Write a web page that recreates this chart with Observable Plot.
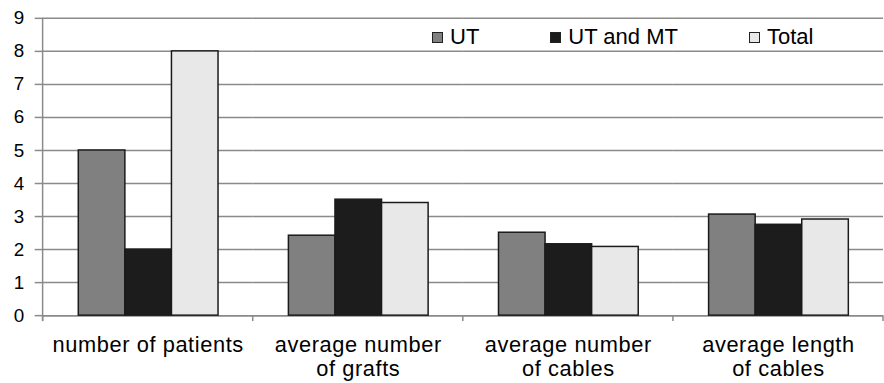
<!DOCTYPE html>
<html>
<head>
<meta charset="utf-8">
<script src="https://cdn.jsdelivr.net/npm/d3@7"></script>
<script src="https://cdn.jsdelivr.net/npm/@observablehq/plot@0.6"></script>
<style>
  html, body { margin: 0; padding: 0; background: #fff; overflow: hidden; }
  #wrap { position: relative; width: 884px; height: 383px; overflow: hidden; }
  #legend { position: absolute; left: 432px; top: 24px; display: flex; gap: 71px;
            font-family: "Liberation Sans", Arial, sans-serif; font-size: 22px; color: #000; line-height: 26px; }
  .item { display: flex; align-items: center; }
  .sw { width: 9px; height: 9px; border: 1px solid #222; margin-right: 7px; }
  g[aria-label="fx-axis tick label"] text { letter-spacing: 0.6px; }
</style>
</head>
<body>
<div id="wrap"><div id="legend"></div></div>
<script>
const categories = ["number of patients", "average number\nof grafts", "average number\nof cables", "average length\nof cables"];
const series = ["UT", "UT and MT", "Total"];
const utValues = [5, 2.42, 2.51, 3.06];
const utmtValues = [2, 3.51, 2.16, 2.75];
const totalValues = [8, 3.41, 2.08, 2.91];
const yTicks = [0, 1, 2, 3, 4, 5, 6, 7, 8, 9];
const colors = ["#808080", "#1c1c1c", "#e8e8e8"];

const valuesBySeries = [utValues, utmtValues, totalValues];
const rows = [];
categories.forEach((c, i) => {
  series.forEach((s, j) => rows.push({cat: c, series: s, value: valuesBySeries[j][i]}));
});

const width = 892, height = 383;
const plot = Plot.plot({
  width, height,
  marginLeft: 41, marginRight: 0, marginTop: 18, marginBottom: 65,
  style: {fontFamily: "'Liberation Sans', Arial, sans-serif", color: "#000", background: "#fff", overflow: "visible"},
  fx: {domain: categories, padding: 0, label: null},
  x: {domain: series, paddingInner: 0, paddingOuter: 0.75, axis: null},
  y: {domain: [0, 9], label: null},
  color: {domain: series, range: colors},
  marks: [
    Plot.gridY(yTicks, {stroke: "#8a8a8a", strokeOpacity: 1, strokeWidth: 1.5}),
    Plot.ruleY([0], {stroke: "#8a8a8a", strokeWidth: 1.5}),
    Plot.barY(rows, {fx: "cat", x: "series", y: "value", fill: "series", stroke: "#1a1a1a", strokeWidth: 1.5}),
    Plot.axisY(yTicks, {tickSize: 8, tickPadding: 11, fontSize: 19, stroke: "#8a8a8a", strokeWidth: 1.5, label: null}),
    Plot.axisFx({anchor: "bottom", tickSize: 0, tickPadding: 20, fontSize: 22, lineHeight: 1.1, label: null})
  ]
});

// boundary ticks and left axis line, positioned from the plot's own scales
const fx = plot.scale("fx"), y = plot.scale("y");
const y0 = y.apply(0), yTop = y.apply(9);
const svg = d3.select(plot);
const bounds = categories.map(c => fx.apply(c));
bounds.push(bounds[bounds.length - 1] + fx.step);
svg.append("g").attr("stroke", "#8a8a8a").attr("stroke-width", 1.5)
  .selectAll("line").data(bounds).join("line")
  .attr("x1", d => d).attr("x2", d => d).attr("y1", y0).attr("y2", y0 + 6);
svg.append("line").attr("stroke", "#8a8a8a").attr("stroke-width", 1.5)
  .attr("x1", bounds[0]).attr("x2", bounds[0]).attr("y1", yTop).attr("y2", y0 + 6);

document.getElementById("wrap").prepend(plot);

const legend = document.getElementById("legend");
series.forEach((s, i) => {
  const item = document.createElement("div");
  item.className = "item";
  const sw = document.createElement("span");
  sw.className = "sw";
  sw.style.background = colors[i];
  const t = document.createElement("span");
  t.textContent = s;
  item.append(sw, t);
  legend.append(item);
});
</script>
</body>
</html>
